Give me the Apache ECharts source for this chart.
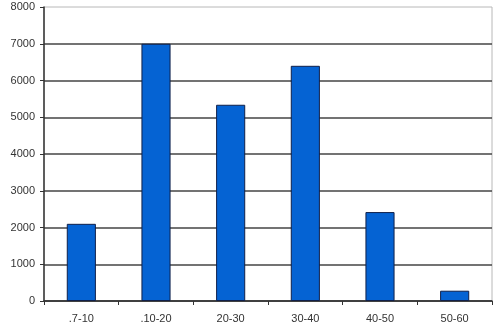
<!DOCTYPE html>
<html>
<head>
<meta charset="utf-8">
<script src="https://cdn.jsdelivr.net/npm/echarts@6/dist/echarts.min.js"></script>
<style>
html,body{margin:0;padding:0;background:#fff;}
#c{width:500px;height:327px;}
</style>
</head>
<body>
<div id="c"></div>
<script>
const categories = ['.7-10', '.10-20', '20-30', '30-40', '40-50', '50-60'];
const counts = [2100, 7000, 5340, 6400, 2420, 280];
const yTicks = [0, 1000, 2000, 3000, 4000, 5000, 6000, 7000, 8000];

const chart = echarts.init(document.getElementById('c'), null, {renderer: 'canvas'});
chart.setOption({
  animation: false,
  backgroundColor: '#ffffff',
  grid: {
    left: 44, right: 8, top: 7, bottom: 26,
    show: true, borderColor: '#b8b8b8', borderWidth: 1, backgroundColor: 'transparent'
  },
  xAxis: {
    type: 'category',
    data: categories,
    boundaryGap: true,
    axisLine: {lineStyle: {color: '#333', width: 1.5}},
    axisTick: {show: true, length: 4, inside: false, lineStyle: {color: '#333'}},
    axisLabel: {color: '#333', fontFamily: 'Liberation Sans, Arial', fontSize: 11, margin: 12}
  },
  yAxis: {
    type: 'value',
    min: yTicks[0],
    max: yTicks[yTicks.length - 1],
    interval: 1000,
    axisLine: {show: true, lineStyle: {color: '#333', width: 1.5}},
    axisTick: {show: true, length: 4, lineStyle: {color: '#333'}},
    axisLabel: {
      color: '#333', fontFamily: 'Liberation Sans, Arial', fontSize: 11, margin: 9,
      formatter: function (v) { return String(v); }
    },
    splitLine: {show: true, showMaxLine: false, lineStyle: {color: '#444', width: 1.5}}
  },
  series: [{
    type: 'bar',
    data: counts,
    barWidth: '39%',
    itemStyle: {color: '#0563d3', borderColor: '#10204a', borderWidth: 1}
  }]
});
</script>
</body>
</html>
